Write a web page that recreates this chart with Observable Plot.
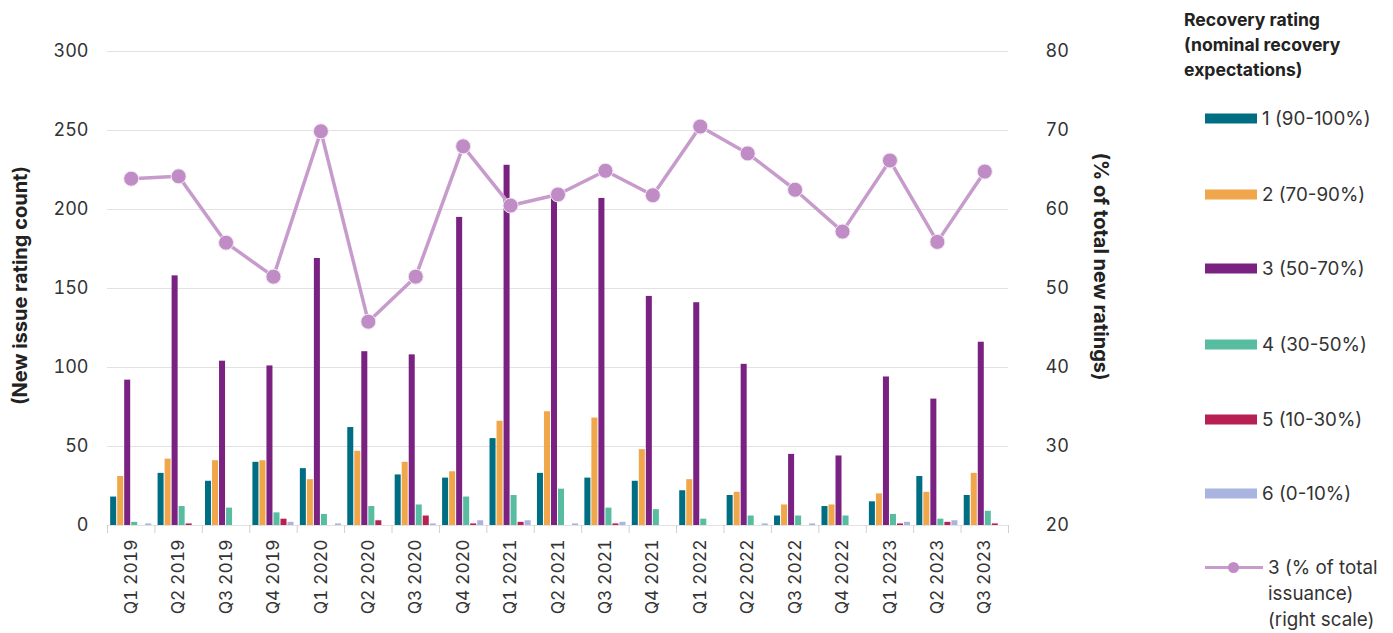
<!DOCTYPE html>
<html><head><meta charset="utf-8">
<script src="https://cdn.jsdelivr.net/npm/d3@7"></script>
<script src="https://cdn.jsdelivr.net/npm/@observablehq/plot@0.6"></script>
<style>
body{margin:0;background:#fff;font-family:Inter,"Noto Sans",sans-serif;color:#333;}
#wrap{position:relative;width:1393px;height:633px;overflow:hidden;}
#chart{position:absolute;left:0;top:0;}
#legend{position:absolute;left:1184px;top:0;width:209px;height:633px;}
#legend .title{position:absolute;left:0;top:7px;font-weight:700;font-size:17.6px;line-height:25px;color:#222;white-space:nowrap;}
#legend .item{position:absolute;left:21px;display:flex;align-items:center;font-size:18.8px;color:#333;transform:translateY(-50%);white-space:nowrap;}
#legend .sw{width:52px;height:10px;margin-right:5px;}
</style></head>
<body><div id="wrap"><div id="chart"></div><div id="legend"></div></div>
<script>
const quarters = ["Q1 2019","Q2 2019","Q3 2019","Q4 2019","Q1 2020","Q2 2020","Q3 2020","Q4 2020","Q1 2021","Q2 2021","Q3 2021","Q4 2021","Q1 2022","Q2 2022","Q3 2022","Q4 2022","Q1 2023","Q2 2023","Q3 2023"];
const seriesNames = ["1 (90-100%)","2 (70-90%)","3 (50-70%)","4 (30-50%)","5 (10-30%)","6 (0-10%)"];
const seriesColors = ["#006e82","#f0a64a","#7a2282","#58bca0","#b81f52","#aab4e0"];
const r1 = [18,33,28,40,36,62,32,30,55,33,30,28,22,19,6,12,15,31,19];
const r2 = [31,42,41,41,29,47,40,34,66,72,68,48,29,21,13,13,20,21,33];
const r3 = [92,158,104,101,169,110,108,195,228,210,207,145,141,102,45,44,94,80,116];
const r4 = [2,12,11,8,7,12,13,18,19,23,11,10,4,6,6,6,7,4,9];
const r5 = [0,1,0,4,0,3,6,1,2,0,1,0,0,0,0,0,1,2,1];
const r6 = [1,0,0,2,1,0,1,3,3,1,2,0,0,1,1,0,2,3,0];
const pct3 = [63.9,64.2,55.8,51.5,69.9,45.8,51.5,68.0,60.5,61.9,64.9,61.8,70.5,67.1,62.5,57.2,66.2,55.9,64.8];
const leftTicks = [0,50,100,150,200,250,300];
const rightTicks = [20,30,40,50,60,70,80];

const seriesValues = [r1,r2,r3,r4,r5,r6];
const slot = 0.148;
const pad = (1 - 6*slot)/2;
const bars = [];
quarters.forEach((q,i)=>seriesValues.forEach((vals,j)=>bars.push({i, j, v: vals[i], s: seriesNames[j]})));
const pts = quarters.map((q,i)=>({i, p: pct3[i]}));
const toLeft = p => (p - 20) * 5;   // right scale 20..80 mapped onto left 0..300

const font = "Inter, 'Noto Sans', sans-serif";
const plot = Plot.plot({
  width: 1175, height: 633,
  marginLeft: 107, marginRight: 167, marginTop: 51, marginBottom: 108,
  style: {fontFamily: font, background: "#fff"},
  x: {type: "linear", domain: [0, quarters.length]},
  y: {domain: [0, 300]},
  color: {domain: seriesNames, range: seriesColors},
  marks: [
    Plot.ruleY(leftTicks, {stroke: "#e2e2e2", strokeWidth: 1}),
    Plot.axisY(leftTicks, {anchor: "left", tickSize: 0, tickPadding: 19, fontSize: 18, fill: "#333", label: null}),
    Plot.axisY(leftTicks, {anchor: "right", tickSize: 0, tickPadding: 37, fontSize: 18, fill: "#333", label: null,
      tickFormat: d => String(rightTicks[leftTicks.indexOf(d)])}),
    Plot.axisX(d3.range(quarters.length + 1), {anchor: "bottom", tickSize: 8, stroke: "#d0d0d0", tickFormat: () => "", label: null}),
    Plot.axisX(quarters.map((q,i)=>i+0.5), {anchor: "bottom", tickSize: 0, tickPadding: 14, tickRotate: -90, fontSize: 17.5, fill: "#333",
      tickFormat: d => quarters[Math.floor(d)], label: null}),
    Plot.rectY(bars, {x1: d => d.i + pad + d.j*slot, x2: d => d.i + pad + (d.j+1)*slot, y1: 0, y2: "v", fill: "s", insetLeft: 0.5, insetRight: 0.5}),
    Plot.line(pts, {x: d => d.i + 0.5, y: d => toLeft(d.p), stroke: "#c79bcb", strokeWidth: 3.5}),
    Plot.dot(pts, {x: d => d.i + 0.5, y: d => toLeft(d.p), r: 7.5, fill: "#c08cc5", stroke: "#f4e8f5", strokeWidth: 1}),
    Plot.text(["(New issue rating count)"], {frameAnchor: "left", textAnchor: "middle", dx: -87, dy: -3, rotate: -90, text: d => d, fontSize: 20, fontWeight: "bold", fill: "#222"}),
    Plot.text(["(% of total new ratings)"], {frameAnchor: "right", textAnchor: "middle", dx: 92, dy: -22, rotate: 90, text: d => d, fontSize: 20, fontWeight: "bold", fill: "#222"})
  ]
});
document.getElementById("chart").appendChild(plot);

const legend = document.getElementById("legend");
const t = document.createElement("div");
t.className = "title";
t.innerHTML = "Recovery rating<br>(nominal recovery<br>expectations)";
legend.appendChild(t);
const itemY = [118,194,268,344,419,493];
seriesNames.forEach((n,j)=>{
  const it = document.createElement("div");
  it.className = "item";
  it.style.top = itemY[j] + "px";
  it.innerHTML = `<div class="sw" style="background:${seriesColors[j]}"></div><span>${n}</span>`;
  legend.appendChild(it);
});
const li = document.createElement("div");
li.className = "item";
li.style.top = "594px";
li.style.alignItems = "flex-start";
li.innerHTML = `<div style="position:relative;width:58px;height:24px;margin-right:5px;">
  <div style="position:absolute;left:0;top:11px;width:58px;height:3px;background:#c79bcb"></div>
  <div style="position:absolute;left:23px;top:7px;width:11px;height:11px;border-radius:50%;background:#c08cc5"></div></div>
  <span style="line-height:26px">3 (% of total<br>issuance)<br>(right scale)</span>`;
legend.appendChild(li);
</script></body></html>
